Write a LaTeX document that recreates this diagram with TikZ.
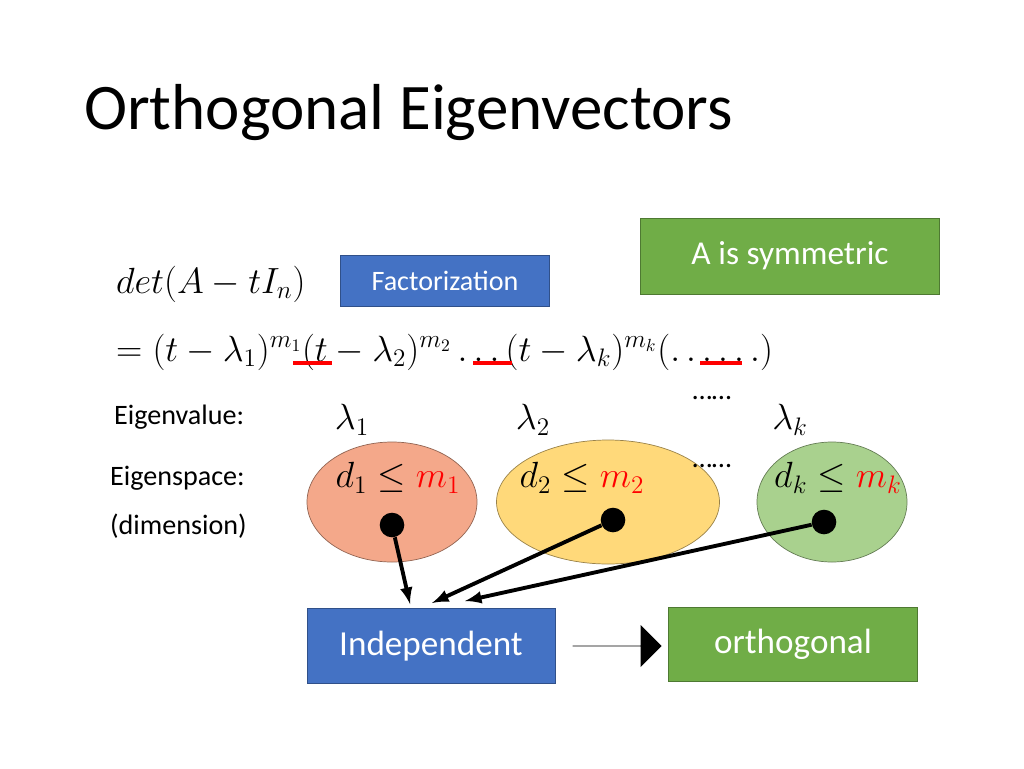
\documentclass[tikz,border=0pt]{standalone}
\usepackage{fontspec}
\setmainfont{Carlito}
\usetikzlibrary{shapes.arrows, shapes.geometric}
\definecolor{boxblue}{HTML}{4472C4}
\definecolor{boxgreen}{HTML}{70AD47}
\definecolor{eigred}{HTML}{FF0000}
\definecolor{spred}{HTML}{F4A88A}
\definecolor{spyellow}{HTML}{FFD97A}
\definecolor{spgreen}{HTML}{A9D18E}
\tikzset{
  bluebox/.style={draw=boxblue!70!black, fill=boxblue, text=white, inner sep=0pt},
  greenbox/.style={draw=boxgreen!70!black, fill=boxgreen, text=white, inner sep=0pt},
  space/.style={draw=#1!60!black, fill=#1, ellipse},
  dot/.style={circle, fill=black, inner sep=0pt, minimum size=14pt},
  link/.style={line width=2.2pt, -latex}
}
\begin{document}
\begin{tikzpicture}[x=0.02cm, y=-0.02cm]
\useasboundingbox (0,0) rectangle (1024,768);

\node[anchor=west, font=\fontsize{37}{40}\selectfont] (title) at (78,113) {Orthogonal Eigenvectors};

\node[greenbox, minimum width=299*0.02cm, minimum height=76*0.02cm, font=\fontsize{19}{22}\selectfont] (sym) at (790,256) {A is symmetric};

\node[anchor=west, font=\fontsize{20}{24}\selectfont] (det) at (110,284) {$det(A-tI_n)$};
\node[bluebox, minimum width=209*0.02cm, minimum height=51*0.02cm, font=\fontsize{16}{19}\selectfont] (fact) at (445,281) {Factorization};

\node[anchor=west, font=\fontsize{20}{24}\selectfont] (poly) at (110,352)
  {$=(t-\lambda_1)^{m_1}(t-\lambda_2)^{m_2}\ldots(t-\lambda_k)^{m_k}(\ldots\ldots)$};
\begin{scope}[eigred, line width=2.5pt]
\draw (293,363) -- (332,363);
\draw (473,363) -- (512,363);
\draw (700,363) -- (742,363);
\end{scope}

% eigenvalues
\node[anchor=west, font=\fontsize{16}{19}\selectfont] (evl) at (108,417) {Eigenvalue:};
\node[font=\fontsize{20}{24}\selectfont] (l1) at (352,420) {$\lambda_1$};
\node[font=\fontsize{20}{24}\selectfont] (l2) at (533,420) {$\lambda_2$};
\node[font=\fontsize{16}{19}\selectfont] (ldots) at (712,398) {……};
\node[font=\fontsize{20}{24}\selectfont] (lk) at (790,420) {$\lambda_k$};

% eigenspaces
\node[anchor=west, font=\fontsize{16}{19}\selectfont] (esp) at (104,478) {Eigenspace:};
\node[anchor=west, font=\fontsize{16}{19}\selectfont] (dim) at (104,526) {(dimension)};
\node[space=spred, minimum width=170*0.02cm, minimum height=120*0.02cm] (e1) at (392,502) {};
\node[space=spyellow, minimum width=223*0.02cm, minimum height=124*0.02cm] (e2) at (608,502) {};
\node[space=spgreen, minimum width=150*0.02cm, minimum height=120*0.02cm] (e3) at (832,502) {};
\node[font=\fontsize{20}{24}\selectfont] (d1) at (398,478) {$d_1\leq{\color{eigred}m_1}$};
\node[font=\fontsize{20}{24}\selectfont] (d2) at (582,478) {$d_2\leq{\color{eigred}m_2}$};
\node[font=\fontsize{16}{19}\selectfont] (ddots) at (712,466) {……};
\node[font=\fontsize{20}{24}\selectfont] (dk) at (838,478) {$d_k\leq{\color{eigred}m_k}$};

\node[dot] (p1) at (392,525) {};
\node[dot] (p2) at (613,520) {};
\node[dot] (p3) at (824,522) {};

\node[bluebox, minimum width=248*0.02cm, minimum height=75*0.02cm, font=\fontsize{20}{24}\selectfont] (indep) at (431,646) {Independent};
\node[greenbox, minimum width=249*0.02cm, minimum height=74*0.02cm, font=\fontsize{20}{24}\selectfont] (orth) at (793,644) {orthogonal};

\coordinate (t1) at (410,604);
\coordinate (t2) at (432,603);
\coordinate (t3) at (465,601);
\draw[link] (p1) -- (t1);
\draw[link] (p2) -- (t2);
\draw[link] (p3) -- (t3);

\node[single arrow, fill=black, minimum height=89*0.02cm, minimum width=42*0.02cm, single arrow head extend=0.35cm, inner sep=0pt, single arrow tip angle=90] (big) at (617,646) {};
\end{tikzpicture}
\end{document}
